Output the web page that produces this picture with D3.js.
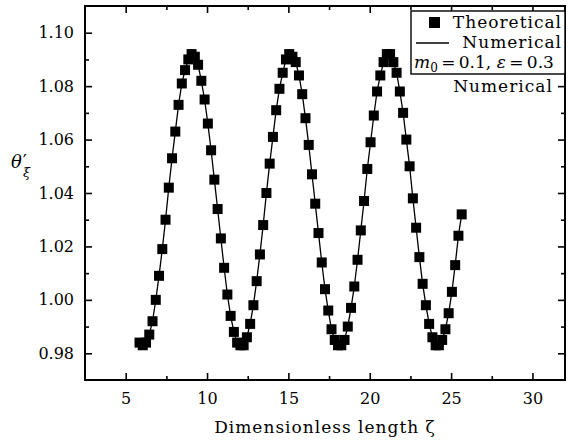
<!DOCTYPE html>
<html>
<head>
<meta charset="utf-8">
<script src="https://cdn.jsdelivr.net/npm/d3@7"></script>
<style>
  body { margin: 0; background: #fff; }
  svg text { font-family: "DejaVu Serif", "Liberation Serif", serif; fill: #000; }
</style>
</head>
<body>
<svg id="chart" width="573" height="442"></svg>
<script>
///////// data //////////
const zeta = [5.85, 6.05, 6.25, 6.45, 6.65, 6.85, 7.05, 7.25, 7.45, 7.65,
  7.85, 8.05, 8.25, 8.45, 8.65, 8.85, 9.05, 9.25, 9.45, 9.65,
  9.85, 10.05, 10.25, 10.45, 10.65, 10.85, 11.05, 11.25, 11.45, 11.65,
  11.85, 12.05, 12.25, 12.45, 12.65, 12.85, 13.05, 13.25, 13.45, 13.65,
  13.85, 14.05, 14.25, 14.45, 14.65, 14.85, 15.05, 15.25, 15.45, 15.65,
  15.85, 16.05, 16.25, 16.45, 16.65, 16.85, 17.05, 17.25, 17.45, 17.65,
  17.85, 18.05, 18.25, 18.45, 18.65, 18.85, 19.05, 19.25, 19.45, 19.65,
  19.85, 20.05, 20.25, 20.45, 20.65, 20.85, 21.05, 21.25, 21.45, 21.65,
  21.85, 22.05, 22.25, 22.45, 22.65, 22.85, 23.05, 23.25, 23.45, 23.65,
  23.85, 24.05, 24.25, 24.45, 24.65, 24.85, 25.05, 25.25, 25.45, 25.65];
const theta = [0.984, 0.983, 0.984, 0.987, 0.992, 1.000, 1.009, 1.019, 1.030, 1.042,
  1.053, 1.063, 1.073, 1.081, 1.086, 1.090, 1.092, 1.091, 1.088, 1.082,
  1.075, 1.066, 1.056, 1.045, 1.034, 1.023, 1.012, 1.002, 0.994, 0.988,
  0.984, 0.983, 0.983, 0.986, 0.991, 0.998, 1.007, 1.017, 1.028, 1.040,
  1.051, 1.061, 1.071, 1.079, 1.085, 1.090, 1.092, 1.091, 1.089, 1.084,
  1.077, 1.068, 1.058, 1.047, 1.036, 1.025, 1.014, 1.004, 0.996, 0.989,
  0.985, 0.983, 0.983, 0.985, 0.990, 0.997, 1.005, 1.015, 1.026, 1.037,
  1.049, 1.059, 1.069, 1.078, 1.084, 1.089, 1.092, 1.092, 1.089, 1.085,
  1.078, 1.070, 1.060, 1.050, 1.038, 1.027, 1.016, 1.006, 0.998, 0.991,
  0.986, 0.983, 0.983, 0.985, 0.989, 0.995, 1.003, 1.013, 1.024, 1.032];
const xTicks = [5, 10, 15, 20, 25, 30];
const xMinorTicks = [7.5, 12.5, 17.5, 22.5, 27.5];
const yTicks = [0.98, 1.00, 1.02, 1.04, 1.06, 1.08, 1.10];
const yMinorTicks = [0.99, 1.01, 1.03, 1.05, 1.07, 1.09];
const legendLabels = ["Theoretical", "Numerical"];

////////////////////// drawing //////////////////////
const svg = d3.select("#chart");
const plotLeft = 85, plotRight = 565, plotTop = 6, plotBottom = 380;

const x = d3.scaleLinear().domain([2.5, 32]).range([plotLeft, plotRight]);
const y = d3.scaleLinear().domain([0.97, 1.11]).range([plotBottom, plotTop]);

function addAxis(axis, tx, ty, ticks, size, pad, labels) {
  let g = svg.append("g")
    .attr("transform", "translate(" + tx + "," + ty + ")")
    .call(axis.tickValues(ticks).tickSizeInner(-size).tickSizeOuter(0).tickPadding(pad)
      .tickFormat(labels ? labels : ""));
  g.select(".domain").remove();
  g.selectAll("line").attr("stroke", "#000").attr("stroke-width", 1.6);
  g.selectAll("text").style("font-size", "16px").attr("fill", "#000");
  return g;
}

// major + minor ticks on all four sides, pointing inward
addAxis(d3.axisBottom(x), 0, plotBottom, xTicks, 7, 13, d3.format("d"));
addAxis(d3.axisBottom(x), 0, plotBottom, xMinorTicks, 4, 0, null);
addAxis(d3.axisTop(x), 0, plotTop, xTicks, 7, 0, null);
addAxis(d3.axisTop(x), 0, plotTop, xMinorTicks, 4, 0, null);
addAxis(d3.axisLeft(y), plotLeft, 0, yTicks, 7, 11, d3.format(".2f"));
addAxis(d3.axisLeft(y), plotLeft, 0, yMinorTicks, 4, 0, null);
addAxis(d3.axisRight(y), plotRight, 0, yTicks, 7, 0, null);
addAxis(d3.axisRight(y), plotRight, 0, yMinorTicks, 4, 0, null);

// frame
svg.append("rect")
  .attr("x", plotLeft).attr("y", plotTop)
  .attr("width", plotRight - plotLeft).attr("height", plotBottom - plotTop)
  .attr("fill", "none").attr("stroke", "#000").attr("stroke-width", 2);

let pts = zeta.map((z, i) => [z, theta[i]]);

// numerical curve
svg.append("path")
  .datum(pts)
  .attr("fill", "none")
  .attr("stroke", "#000")
  .attr("stroke-width", 1.3)
  .attr("d", d3.line().x(d => x(d[0])).y(d => y(d[1])));

// theoretical markers
const ms = 10;
svg.append("g").selectAll("rect")
  .data(pts)
  .enter()
  .append("rect")
  .attr("x", d => x(d[0]) - ms / 2)
  .attr("y", d => y(d[1]) - ms / 2)
  .attr("width", ms)
  .attr("height", ms)
  .attr("fill", "#000");

// axis titles
svg.append("text")
  .attr("x", (plotLeft + plotRight) / 2).attr("y", 433)
  .attr("text-anchor", "middle")
  .style("font-size", "17px")
  .style("letter-spacing", "1px")
  .text("Dimensionless length \u03B6");

let ylab = svg.append("text").attr("x", 11).attr("y", 168).style("font-size", "18px");
ylab.append("tspan").style("font-style", "italic").text("\u03B8");
ylab.append("tspan").attr("dx", 1).text("\u2032");
ylab.append("tspan").attr("x", 23).attr("dy", 9).style("font-style", "italic").style("font-size", "13px").text("\u03BE");

// legend
let lg = svg.append("g");
lg.append("rect")
  .attr("x", 411).attr("y", 11).attr("width", 154).attr("height", 63)
  .attr("fill", "#fff").attr("stroke", "#000").attr("stroke-width", 1.4);
lg.append("rect").attr("x", 429).attr("y", 17).attr("width", 11).attr("height", 11).attr("fill", "#000");
lg.append("line").attr("x1", 416).attr("x2", 449).attr("y1", 43).attr("y2", 43)
  .attr("stroke", "#000").attr("stroke-width", 1.3);
lg.selectAll("text.lab")
  .data(legendLabels)
  .enter()
  .append("text")
  .attr("class", "lab")
  .attr("x", 562)
  .attr("y", (d, i) => 28 + i * 20)
  .attr("text-anchor", "end")
  .style("font-size", "17px")
  .style("letter-spacing", "1px")
  .text(d => d);
let par = lg.append("text").attr("x", 414).attr("y", 68).style("font-size", "17px");
par.append("tspan").style("font-style", "italic").text("m");
par.append("tspan").attr("dy", 4).style("font-size", "12px").text("0");
par.append("tspan").attr("dy", -4).text("\u2009=\u20090.1, ");
par.append("tspan").style("font-style", "italic").text("\u03B5");
par.append("tspan").text("\u2009=\u20090.3");
lg.append("text")
  .attr("x", 503).attr("y", 92)
  .attr("text-anchor", "middle")
  .style("font-size", "17px")
  .style("letter-spacing", "1px")
  .text("Numerical");
</script>
</body>
</html>
